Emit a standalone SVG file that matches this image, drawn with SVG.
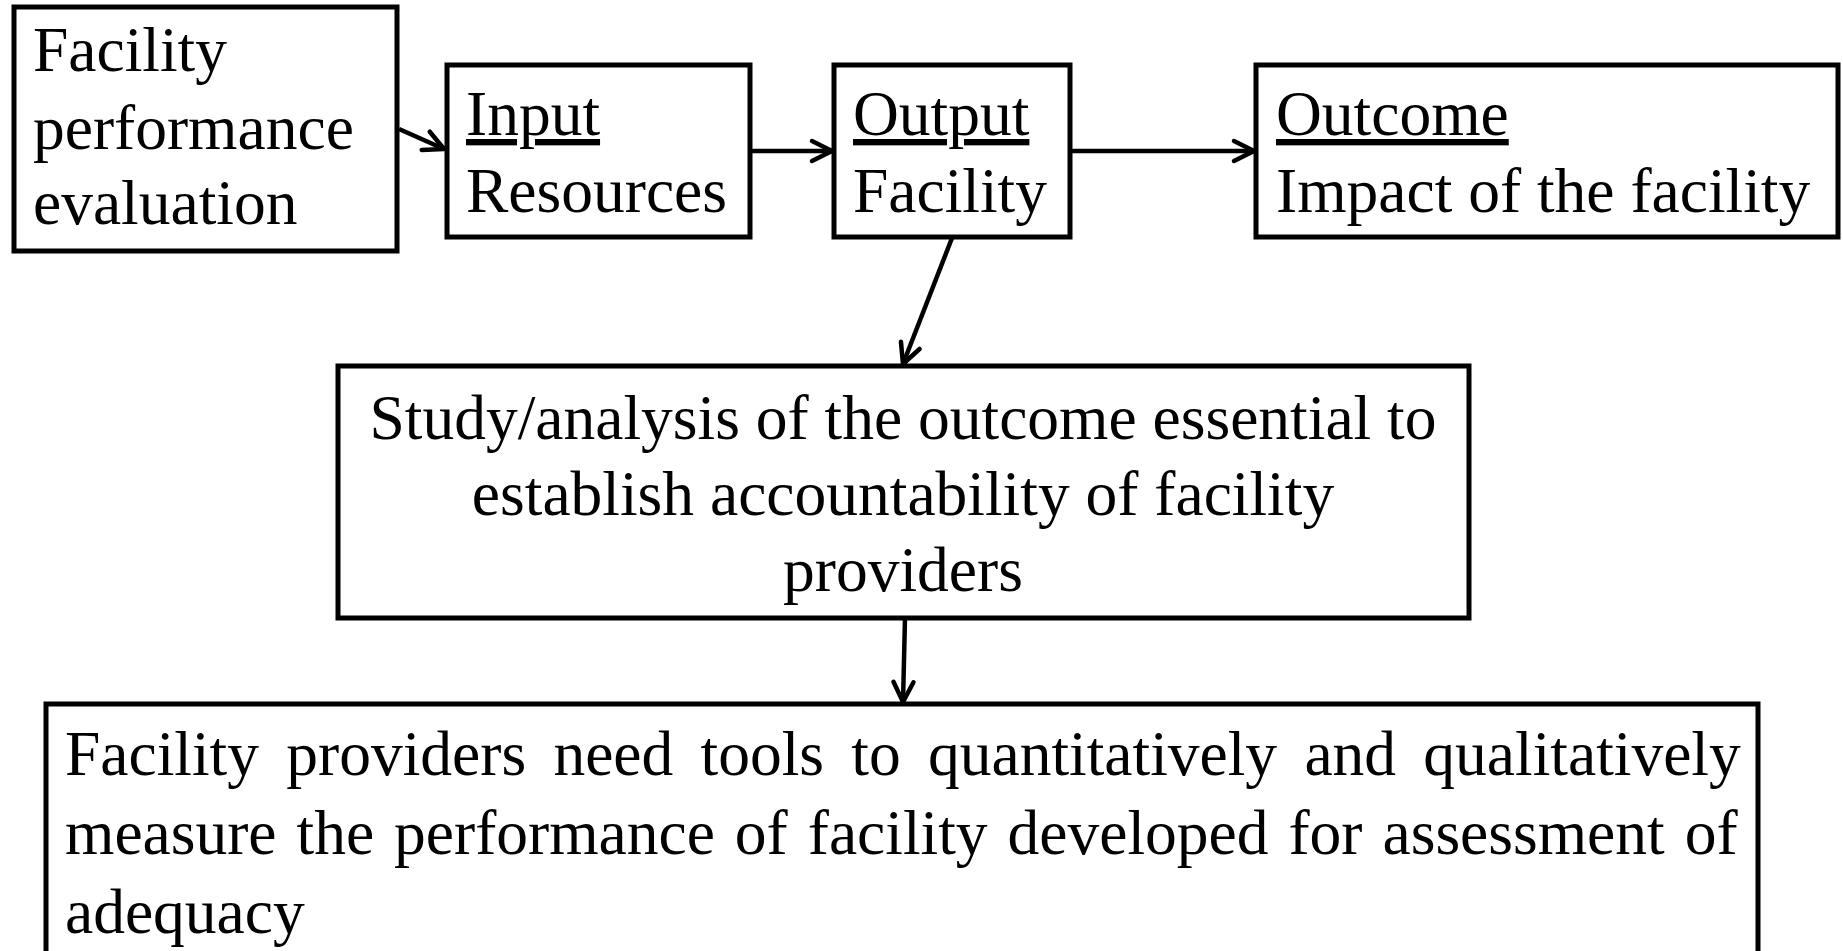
<svg xmlns="http://www.w3.org/2000/svg" width="1843" height="951" viewBox="0 0 1843 951">
  <style>
    .box { fill: #ffffff; stroke: #000000; stroke-width: 5; }
    .lbl { font-family: "Liberation Serif", "Times New Roman", serif; font-size: 63.5px; fill: #000000; }
    .mid { text-anchor: middle; }
    .ul { text-decoration: underline; }
    .conn { stroke: #000000; stroke-width: 4.5; fill: none; marker-end: url(#arrow); }
  </style>
  <defs>
    <marker id="arrow" viewBox="-26 -16 32 32" refX="0" refY="0" markerWidth="32" markerHeight="32" markerUnits="userSpaceOnUse" orient="auto">
      <path d="M-20,-10 L0,0 L-20,10" fill="none" stroke="#000000" stroke-width="4.5" stroke-linecap="round" stroke-linejoin="round"/>
    </marker>
  </defs>
  <rect x="0" y="0" width="1843" height="951" fill="#ffffff"/>

  <g id="evaluation">
    <rect class="box" x="14" y="7" width="383" height="244"/>
    <text class="lbl" x="33" y="71">Facility</text>
    <text class="lbl" x="33" y="149">performance</text>
    <text class="lbl" x="33" y="224">evaluation</text>
  </g>

  <g id="input">
    <rect class="box" x="447" y="65" width="303" height="172"/>
    <text class="lbl ul" x="466" y="135">Input</text>
    <text class="lbl" x="466" y="212">Resources</text>
  </g>

  <g id="output">
    <rect class="box" x="834" y="65" width="236" height="172"/>
    <text class="lbl ul" x="853" y="135">Output</text>
    <text class="lbl" x="853" y="212">Facility</text>
  </g>

  <g id="outcome">
    <rect class="box" x="1256" y="65" width="582" height="172"/>
    <text class="lbl ul" x="1276" y="135">Outcome</text>
    <text class="lbl" x="1276" y="212">Impact of the facility</text>
  </g>

  <g id="study">
    <rect class="box" x="338" y="366" width="1131" height="252"/>
    <text class="lbl mid" x="903" y="439">Study/analysis of the outcome essential to</text>
    <text class="lbl mid" x="903" y="515">establish accountability of facility</text>
    <text class="lbl mid" x="903" y="591">providers</text>
  </g>

  <g id="tools">
    <rect class="box" x="46" y="704" width="1712" height="270"/>
    <text class="lbl" x="65" y="775" word-spacing="11.4">Facility providers need tools to quantitatively and qualitatively</text>
    <text class="lbl" x="65" y="854" word-spacing="4.1">measure the performance of facility developed for assessment of</text>
    <text class="lbl" x="65" y="933">adequacy</text>
  </g>

  <g id="connectors">
    <line class="conn" x1="399" y1="129" x2="444" y2="149"/>
    <line class="conn" x1="750" y1="151" x2="832" y2="151"/>
    <line class="conn" x1="1070" y1="151" x2="1254" y2="151"/>
    <line class="conn" x1="952" y1="238" x2="903" y2="364"/>
    <line class="conn" x1="905" y1="618" x2="903" y2="702"/>
  </g>
</svg>
